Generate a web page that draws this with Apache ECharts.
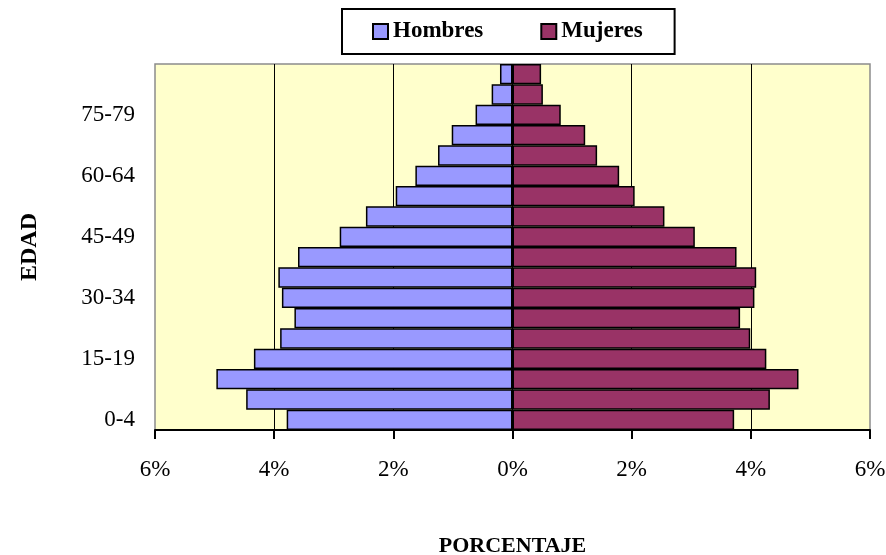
<!DOCTYPE html>
<html>
<head>
<meta charset="utf-8">
<script src="https://cdn.jsdelivr.net/npm/echarts@6/dist/echarts.min.js"></script>
<style>
  html, body { margin: 0; padding: 0; background: #fff; }
  #main { width: 886px; height: 555px; }
</style>
</head>
<body>
<div id="main"></div>
<script>
// grupos de edad, de abajo hacia arriba
var edades = ['0-4', '5-9', '10-14', '15-19', '20-24', '25-29', '30-34', '35-39', '40-44',
  '45-49', '50-54', '55-59', '60-64', '65-69', '70-74', '75-79', '80-84', '85+'];
// porcentajes
var hombres = [3.79, 4.47, 4.97, 4.34, 3.90, 3.66, 3.87, 3.93, 3.60,
  2.90, 2.46, 1.96, 1.63, 1.25, 1.02, 0.62, 0.35, 0.21];
var mujeres = [3.72, 4.32, 4.80, 4.26, 3.99, 3.82, 4.06, 4.09, 3.76,
  3.06, 2.55, 2.05, 1.79, 1.42, 1.22, 0.81, 0.51, 0.48];

var fuente = 'Liberation Serif';
var myChart = echarts.init(document.getElementById('main'));

var option = {
  backgroundColor: '#fff',
  animation: false,
  textStyle: { fontFamily: fuente, color: '#000' },
  legend: {
    left: 342,
    top: 9,
    padding: [11, 32, 11, 30],
    itemGap: 57,
    itemWidth: 15,
    itemHeight: 15,
    icon: 'rect',
    borderColor: '#000',
    borderWidth: 2,
    textStyle: { fontFamily: fuente, fontSize: 23, fontWeight: 'bold', color: '#000' },
    data: ['Hombres', 'Mujeres']
  },
  grid: {
    left: 155,
    right: 16,
    top: 64,
    bottom: 125,
    outerBoundsMode: 'none',
    containLabel: false,
    show: true,
    backgroundColor: '#FFFFCC',
    borderColor: '#8c8c8c',
    borderWidth: 1.5
  },
  xAxis: {
    type: 'value',
    min: -6,
    max: 6,
    interval: 2,
    name: 'PORCENTAJE',
    nameLocation: 'middle',
    nameGap: 105,
    nameTextStyle: { fontFamily: fuente, fontSize: 22, fontWeight: 'bold', color: '#000' },
    axisLine: { show: true, lineStyle: { color: '#000', width: 2 } },
    axisTick: { show: true, inside: false, length: 9, lineStyle: { color: '#000', width: 2 } },
    axisLabel: {
      margin: 28,
      fontFamily: fuente,
      fontSize: 23,
      color: '#000',
      formatter: function (v) { return Math.abs(v) + '%'; }
    },
    splitLine: {
      show: true,
      showMinLine: false,
      showMaxLine: false,
      lineStyle: { color: '#000', width: 1 }
    }
  },
  yAxis: {
    type: 'category',
    data: edades,
    name: 'EDAD',
    nameLocation: 'middle',
    nameGap: 113,
    nameTextStyle: { fontFamily: fuente, fontSize: 24, fontWeight: 'bold', color: '#000' },
    axisLine: { show: false },
    axisTick: { show: false },
    axisLabel: { interval: 2, margin: 20, fontFamily: fuente, fontSize: 23, color: '#000' },
    splitLine: { show: false }
  },
  series: [
    {
      name: 'Hombres',
      type: 'bar',
      stack: 'total',
      barCategoryGap: 0,
      data: hombres.map(function (v) { return -v; }),
      itemStyle: { color: '#9999FF', borderColor: '#000', borderWidth: 1.5 }
    },
    {
      name: 'Mujeres',
      type: 'bar',
      stack: 'total',
      barCategoryGap: 0,
      data: mujeres,
      itemStyle: { color: '#993366', borderColor: '#000', borderWidth: 1.5 }
    }
  ]
};

myChart.setOption(option);
</script>
</body>
</html>
